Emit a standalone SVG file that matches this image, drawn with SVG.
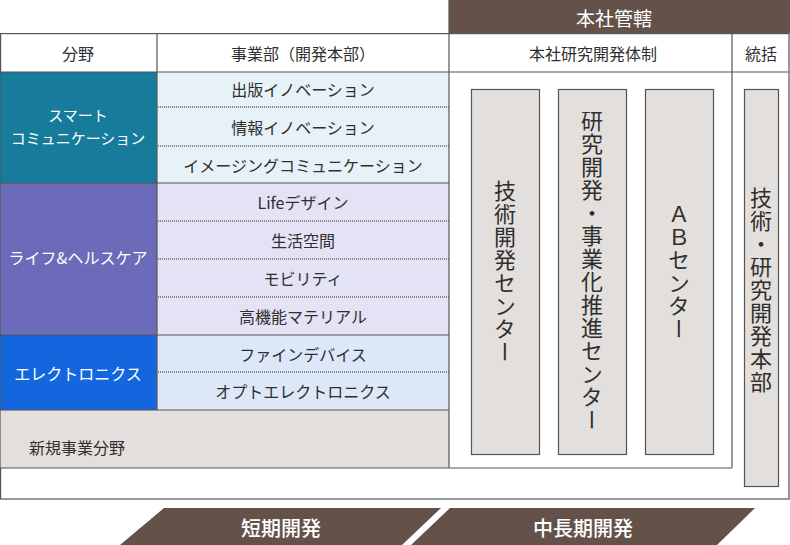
<svg xmlns="http://www.w3.org/2000/svg" width="790" height="545" viewBox="0 0 790 545">
<defs>
<style>
text{font-family:"Noto Sans CJK JP","Noto Sans",sans-serif;dominant-baseline:central;text-anchor:middle}
.t{font-size:16px;fill:#2f2f2f}
.w{font-size:16px;fill:#ffffff}
.b{font-size:19px;fill:#ffffff}
.bb{font-size:20px;fill:#ffffff;font-weight:500}
.v{font-size:22px;fill:#2f2f2f;writing-mode:vertical-rl;letter-spacing:1px}
.ln{stroke:#555555;stroke-width:1.2;fill:none}
.dot{stroke:#666666;stroke-width:1.5;stroke-dasharray:1 1;fill:none}
.col{fill:#e3dfdc;stroke:#555555;stroke-width:1.2}
.brown{fill:#64524a}
</style>
</defs>
<rect x="0" y="0" width="790" height="545" fill="#ffffff"/>

<g id="header-honsha">
<rect class="brown" x="449" y="0" width="341" height="33"/>
<text class="b" x="614" y="17">本社管轄</text>
</g>

<g id="frame">
<rect x="0.6" y="33.6" width="788.4" height="465.4" fill="#ffffff" stroke="#555555" stroke-width="1.2"/>
</g>

<g id="head-bunya"><text class="t" x="78" y="53">分野</text></g>
<g id="head-jigyobu"><text class="t" x="303" y="53">事業部（開発本部）</text></g>
<g id="head-kenkyu"><text class="t" x="593" y="53">本社研究開発体制</text></g>
<g id="head-tokatsu"><text class="t" x="761" y="53">統括</text></g>

<g id="field-smart">
<rect x="0.6" y="72" width="156.4" height="111" fill="#177c9b"/>
<text class="w" x="78" y="114" style="font-size:15px">スマート</text>
<text class="w" x="78" y="137" style="font-size:15px">コミュニケーション</text>
</g>
<g id="field-life">
<rect x="0.6" y="183" width="156.4" height="152" fill="#6b6bba"/>
<text class="w" x="78" y="257">ライフ&amp;ヘルスケア</text>
</g>
<g id="field-elec">
<rect x="0.6" y="335" width="156.4" height="75" fill="#1366dd"/>
<text class="w" x="78" y="373">エレクトロニクス</text>
</g>

<g id="div-smart">
<rect x="157" y="72" width="292" height="111" fill="#e6f2f7"/>
<text class="t" x="303" y="89">出版イノベーション</text>
<text class="t" x="303" y="126.5">情報イノベーション</text>
<text class="t" x="303" y="164.5">イメージングコミュニケーション</text>
</g>
<g id="div-life">
<rect x="157" y="183" width="292" height="152" fill="#e4e3f5"/>
<text class="t" x="303" y="202">Lifeデザイン</text>
<text class="t" x="303" y="240">生活空間</text>
<text class="t" x="303" y="278">モビリティ</text>
<text class="t" x="303" y="316">高機能マテリアル</text>
</g>
<g id="div-elec">
<rect x="157" y="335" width="292" height="75" fill="#dce7f8"/>
<text class="t" x="303" y="353.5">ファインデバイス</text>
<text class="t" x="303" y="391">オプトエレクトロニクス</text>
</g>
<g id="field-new">
<rect x="0.6" y="410" width="448.4" height="58" fill="#e3dfdc"/>
<text class="t" x="29" y="447" style="text-anchor:start">新規事業分野</text>
</g>

<g id="lines">
<line class="ln" x1="0" y1="72" x2="789" y2="72"/>
<line class="ln" x1="157" y1="33" x2="157" y2="410"/>
<line class="ln" x1="449" y1="0" x2="449" y2="468"/>
<line class="ln" x1="732" y1="33" x2="732" y2="468"/>
<line class="ln" x1="0" y1="183" x2="449" y2="183"/>
<line class="ln" x1="0" y1="335" x2="449" y2="335"/>
<line class="ln" x1="0" y1="410" x2="449" y2="410"/>
<line class="ln" x1="0" y1="468" x2="732" y2="468"/>
<line class="dot" x1="158" y1="107" x2="449" y2="107"/>
<line class="dot" x1="158" y1="146" x2="449" y2="146"/>
<line class="dot" x1="158" y1="221" x2="449" y2="221"/>
<line class="dot" x1="158" y1="259" x2="449" y2="259"/>
<line class="dot" x1="158" y1="297" x2="449" y2="297"/>
<line class="dot" x1="158" y1="372" x2="449" y2="372"/>
</g>

<g id="center-gijutsu">
<rect class="col" x="471.5" y="89.5" width="68" height="365"/>
<text class="v" x="505" y="272">技術開発センター</text>
</g>
<g id="center-kenkyu">
<rect class="col" x="558.5" y="89.5" width="68" height="365"/>
<text class="v" x="592" y="271">研究開発・事業化推進センター</text>
</g>
<g id="center-ab">
<rect class="col" x="645.5" y="89.5" width="68" height="365"/>
<text class="v" x="679" y="272">ＡＢセンター</text>
</g>
<g id="honbu">
<rect class="col" x="744.5" y="89.5" width="34" height="397"/>
<text class="v" x="761" y="290">技術・研究開発本部</text>
</g>

<g id="term-short">
<polygon class="brown" points="164,508 441,508 402,545 120,545"/>
<text class="bb" x="281" y="527">短期開発</text>
</g>
<g id="term-long">
<polygon class="brown" points="450,508 755,508 717,545 411,545"/>
<text class="bb" x="583" y="527">中長期開発</text>
</g>
</svg>
